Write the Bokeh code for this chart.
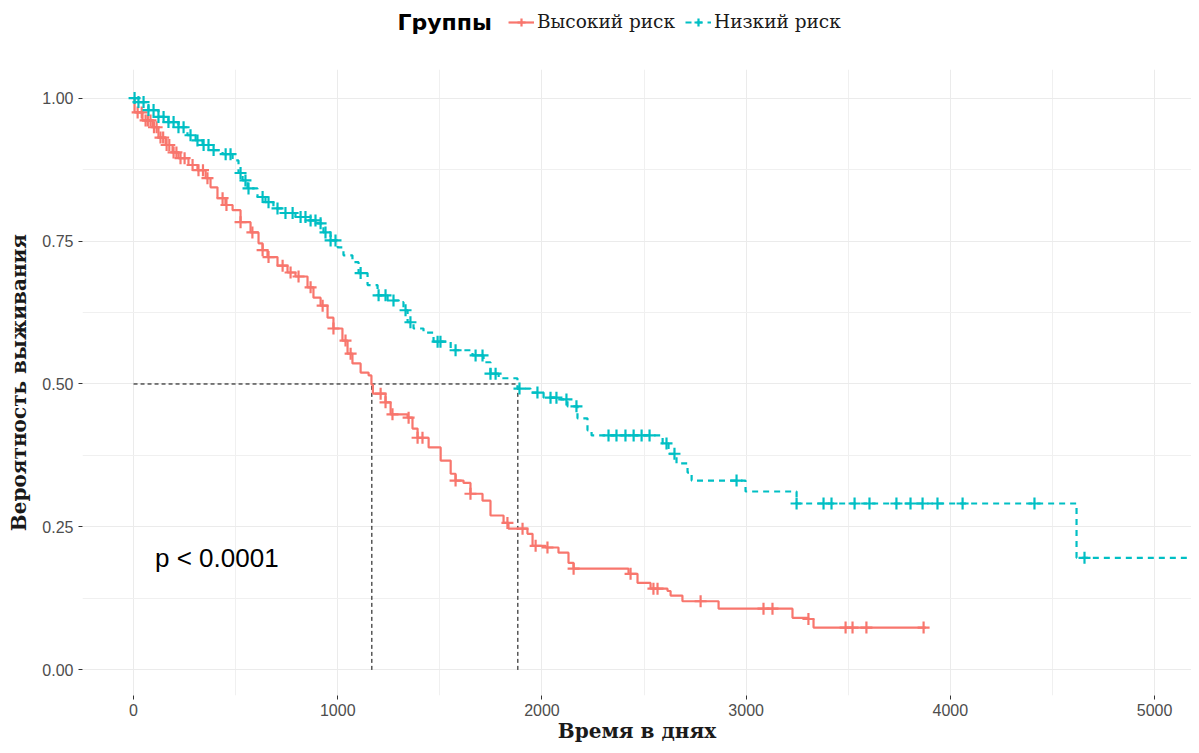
import numpy as np
from bokeh.plotting import figure
from bokeh.layouts import column
from bokeh.models import (Range1d, FixedTicker, Legend, LegendItem, Label,
                          PrintfTickFormatter)
from bokeh.embed import file_html
from bokeh.resources import INLINE

# ---------------- data ----------------
legend_title = "Группы"
group_names = ["Высокий риск", "Низкий риск"]
group_colors = ["#F8766D", "#00BFC4"]

# Kaplan-Meier step points: time (days) and survival after the step
high_time = [0, 5, 44, 93, 122, 157, 191, 220, 269, 313, 353, 377, 411, 450, 485,
             524, 573, 612, 632, 656, 705, 754, 793, 852, 881, 916, 950, 979,
             1023, 1048, 1072, 1112, 1151, 1165, 1172, 1234, 1259, 1342, 1366,
             1391, 1445, 1504, 1553, 1577, 1616, 1650, 1709, 1748, 1812, 1836,
             1929, 1954, 2018, 2081, 2130, 2155, 2424, 2468, 2532, 2615, 2630,
             2688, 2865, 3227, 3305, 3330]
high_surv = [1.0, 0.975, 0.961, 0.949, 0.931, 0.918, 0.905, 0.895, 0.883, 0.874,
             0.860, 0.844, 0.825, 0.813, 0.804, 0.783, 0.765, 0.746, 0.734, 0.722,
             0.707, 0.695, 0.688, 0.669, 0.651, 0.637, 0.616, 0.597, 0.576, 0.553,
             0.536, 0.520, 0.515, 0.499, 0.483, 0.468, 0.447, 0.441, 0.422, 0.406,
             0.389, 0.366, 0.343, 0.331, 0.327, 0.308, 0.296, 0.270, 0.257, 0.247,
             0.238, 0.217, 0.214, 0.205, 0.187, 0.177, 0.168, 0.152, 0.142, 0.138,
             0.130, 0.120, 0.107, 0.091, 0.089, 0.074]
high_end = 3880
high_censor = [20, 40, 59, 70, 83, 100, 113, 132, 145, 162, 175, 196, 210, 230, 250,
               289, 318, 340, 362, 436, 455, 524, 582, 632, 661, 730, 769, 808, 867,
               926, 979, 1038, 1063, 1210, 1234, 1268, 1347, 1391, 1415, 1577, 1650,
               1831, 1905, 1969, 2027, 2155, 2434, 2546, 2566, 2777, 3085, 3129,
               3305, 3487, 3521, 3589, 3869]

low_time = [0, 24, 73, 122, 171, 220, 264, 304, 338, 387, 436, 485, 514, 534, 558,
            607, 646, 685, 734, 793, 852, 901, 930, 965, 999, 1028, 1072, 1102,
            1146, 1195, 1244, 1298, 1322, 1342, 1371, 1420, 1469, 1553, 1660, 1714,
            1748, 1788, 1880, 1944, 2008, 2076, 2125, 2174, 2223, 2243, 2591, 2620,
            2659, 2713, 2733, 2997, 3247, 4618]
low_surv = [1.0, 0.993, 0.979, 0.967, 0.958, 0.949, 0.935, 0.926, 0.918, 0.909,
            0.902, 0.891, 0.869, 0.856, 0.842, 0.827, 0.818, 0.807, 0.799, 0.792,
            0.786, 0.781, 0.765, 0.751, 0.739, 0.725, 0.713, 0.694, 0.673, 0.655,
            0.646, 0.643, 0.629, 0.608, 0.597, 0.590, 0.574, 0.559, 0.550, 0.538,
            0.518, 0.510, 0.492, 0.485, 0.476, 0.473, 0.461, 0.440, 0.419, 0.410,
            0.396, 0.378, 0.361, 0.345, 0.331, 0.312, 0.291, 0.196]
low_end = 5300
low_censor = [5, 24, 49, 73, 98, 122, 147, 171, 196, 220, 245, 279, 313, 343, 367,
              392, 451, 475, 524, 548, 563, 632, 661, 705, 744, 779, 818, 842, 867,
              891, 916, 940, 965, 989, 1112, 1200, 1234, 1273, 1332, 1356, 1489,
              1503, 1577, 1675, 1709, 1748, 1773, 1890, 1978, 2042, 2071, 2120, 2169,
              2326, 2365, 2409, 2449, 2488, 2527, 2610, 2649, 2953, 3247, 3379, 3418,
              3531, 3604, 3736, 3805, 3864, 3937, 4060, 4412, 4657]

median_times = [1167, 1882]
median_level = 0.5
p_text = "p < 0.0001"
p_pos = [105, 0.196]

x_ticks = [0, 1000, 2000, 3000, 4000, 5000]
x_minor = [500, 1500, 2500, 3500, 4500]
y_ticks = [0.0, 0.25, 0.5, 0.75, 1.0]
y_minor = [0.125, 0.375, 0.625, 0.875]

W = 1191
HEAD_H = 60
MAIN_H = 685
line_dashes = ["solid", "6 5"]

# ---------------- main figure ----------------
p = figure(width=W, height=MAIN_H, output_backend="svg", toolbar_location=None,
           x_range=Range1d(-250, 5181), y_range=Range1d(-0.0448, 1.05),
           min_border_left=82, min_border_right=0, min_border_top=9,
           min_border_bottom=50)
p.outline_line_color = None
p.background_fill_color = "white"

p.xaxis.ticker = FixedTicker(ticks=x_ticks, minor_ticks=x_minor)
p.yaxis.ticker = FixedTicker(ticks=y_ticks, minor_ticks=y_minor)
p.yaxis.formatter = PrintfTickFormatter(format="%.2f")
for ax in (p.xaxis, p.yaxis):
    ax.axis_line_color = None
    ax.major_tick_line_color = "#333333"
    ax.major_tick_out = 4
    ax.major_tick_in = 0
    ax.minor_tick_line_color = None
    ax.major_label_text_font = "Liberation Sans"
    ax.major_label_text_font_size = "16px"
    ax.major_label_text_color = "#4d4d4d"
    ax.axis_label_text_font = "DejaVu Serif"
    ax.axis_label_text_font_style = "bold"
    ax.axis_label_text_font_size = "20px"
    ax.axis_label_text_color = "#1a1a1a"
p.xaxis.axis_label = "Время в днях"
p.yaxis.axis_label = "Вероятность выживания"
p.xaxis.major_label_standoff = 4
p.yaxis.major_label_standoff = 5
p.xaxis.axis_label_standoff = 0
p.yaxis.axis_label_standoff = 8

for g in (p.xgrid, p.ygrid):
    g.grid_line_color = "#ebebeb"
    g.grid_line_width = 1
    g.minor_grid_line_color = "#f0f0f0"
    g.minor_grid_line_width = 1


def surv_at(times, survs, t):
    idx = np.searchsorted(np.asarray(times), np.asarray(t), side="right") - 1
    return np.asarray(survs)[idx]


# median reference lines
p.segment(x0=[0], y0=[median_level], x1=[max(median_times)], y1=[median_level],
          line_color="black", line_width=1, line_dash="4 3")
p.segment(x0=median_times, y0=[0] * len(median_times), x1=median_times,
          y1=[median_level] * len(median_times), line_color="black",
          line_width=1, line_dash="4 3")

series = [(high_time, high_surv, high_end, high_censor),
          (low_time, low_surv, low_end, low_censor)]
for (tt, ss, end, cens), col, dash in zip(series, group_colors, line_dashes):
    xs = list(tt) + [end]
    ys = list(ss) + [ss[-1]]
    p.step(xs, ys, mode="after", line_color=col, line_width=2.2, line_dash=dash)
    p.scatter(cens, surv_at(tt, ss, cens), marker="cross", size=12,
              line_color=col, line_width=2.2)

p.add_layout(Label(x=p_pos[0], y=p_pos[1], text=p_text,
                   text_font="Liberation Sans", text_font_size="26px",
                   text_color="black", text_baseline="middle"))

# ---------------- legend header ----------------
h = figure(width=W, height=HEAD_H, output_backend="svg", toolbar_location=None,
           x_range=Range1d(0, 1), y_range=Range1d(0, 1),
           min_border=0, x_axis_location=None, y_axis_location=None)
h.outline_line_color = None
h.grid.visible = False

items = []
for name, col, dash in zip(group_names, group_colors, line_dashes):
    # off-screen sample glyphs, only used to draw the legend keys
    r1 = h.line([-10, -9], [-10, -10], line_color=col, line_width=2.2, line_dash=dash)
    r2 = h.scatter([-10], [-10], marker="cross", size=12, line_color=col,
                   line_width=2.2)
    items.append(LegendItem(label=name, renderers=[r1, r2]))

legend = Legend(items=items, orientation="horizontal", location=(426, 28),
                background_fill_alpha=0, border_line_color=None,
                label_text_font="DejaVu Serif", label_text_font_size="18.5px",
                label_text_color="#1a1a1a", glyph_width=26, glyph_height=20,
                label_standoff=3, spacing=10, padding=0, margin=0)
h.add_layout(legend, "center")
h.add_layout(Label(x=315, y=38, x_units="screen", y_units="screen",
                   text=legend_title, text_font="DejaVu Sans",
                   text_font_style="bold", text_font_size="22px",
                   text_color="black", text_baseline="middle"))

open("out.html", "w").write(file_html(column(h, p, spacing=0), INLINE))
